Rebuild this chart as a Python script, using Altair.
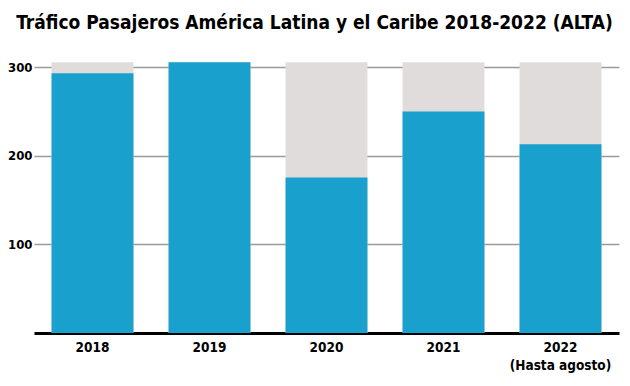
import altair as alt
import pandas as pd

years = ["2018", "2019", "2020", "2021", "2022"]
pasajeros = [293, 305.5, 175.5, 250, 213]
y_ticks = [100, 200, 300]
title_text = "Tráfico Pasajeros América Latina y el Caribe 2018-2022 (ALTA)"

ref = max(pasajeros)
df = pd.DataFrame({"year": years, "value": pasajeros, "ref": [ref] * len(years)})

FONT = "DejaVu Sans Condensed"

x_enc = alt.X(
    "year:N",
    sort=years,
    scale=alt.Scale(paddingInner=0.3, paddingOuter=0.15),
    axis=alt.Axis(
        title=None,
        labelAngle=0,
        ticks=False,
        domainColor="black",
        domainWidth=3,
        labelFont=FONT,
        labelFontWeight="bold",
        labelFontSize=13.5,
        labelColor="black",
        labelPadding=7,
        labelLineHeight=18,
        labelExpr="datum.value == '2022' ? ['2022', '(Hasta agosto)'] : datum.value",
        grid=False,
    ),
)

y_scale = alt.Scale(domain=[0, 325], nice=False)

bg = alt.Chart(df).mark_bar(color="#e0dcdc").encode(
    x=x_enc,
    y=alt.Y(
        "ref:Q",
        scale=y_scale,
        axis=alt.Axis(
            title=None,
            values=y_ticks,
            ticks=False,
            domain=False,
            grid=True,
            gridColor="#9a9a9a",
            gridWidth=1.3,
            labelFont=FONT,
            labelFontWeight="bold",
            labelFontSize=13,
            labelColor="black",
            labelPadding=2,
        ),
    ),
)

fg = alt.Chart(df).mark_bar(color="#1aa0cc").encode(
    x=x_enc,
    y=alt.Y("value:Q", scale=y_scale),
)

chart = (
    alt.layer(bg, fg)
    .properties(
        width=585,
        height=288,
        background="white",
        autosize=alt.AutoSizeParams(type="none"),
        padding={"left": 26, "top": 37, "right": 3, "bottom": 45},
        title=alt.TitleParams(
            text=title_text,
            font=FONT,
            fontSize=19,
            fontWeight="bold",
            color="black",
            anchor="middle",
            dx=-12,
            offset=12,
        ),
    )
    .configure_view(strokeWidth=0, strokeOpacity=0)
)

chart.save("out.html", embed_options={"renderer": "svg", "actions": False})
